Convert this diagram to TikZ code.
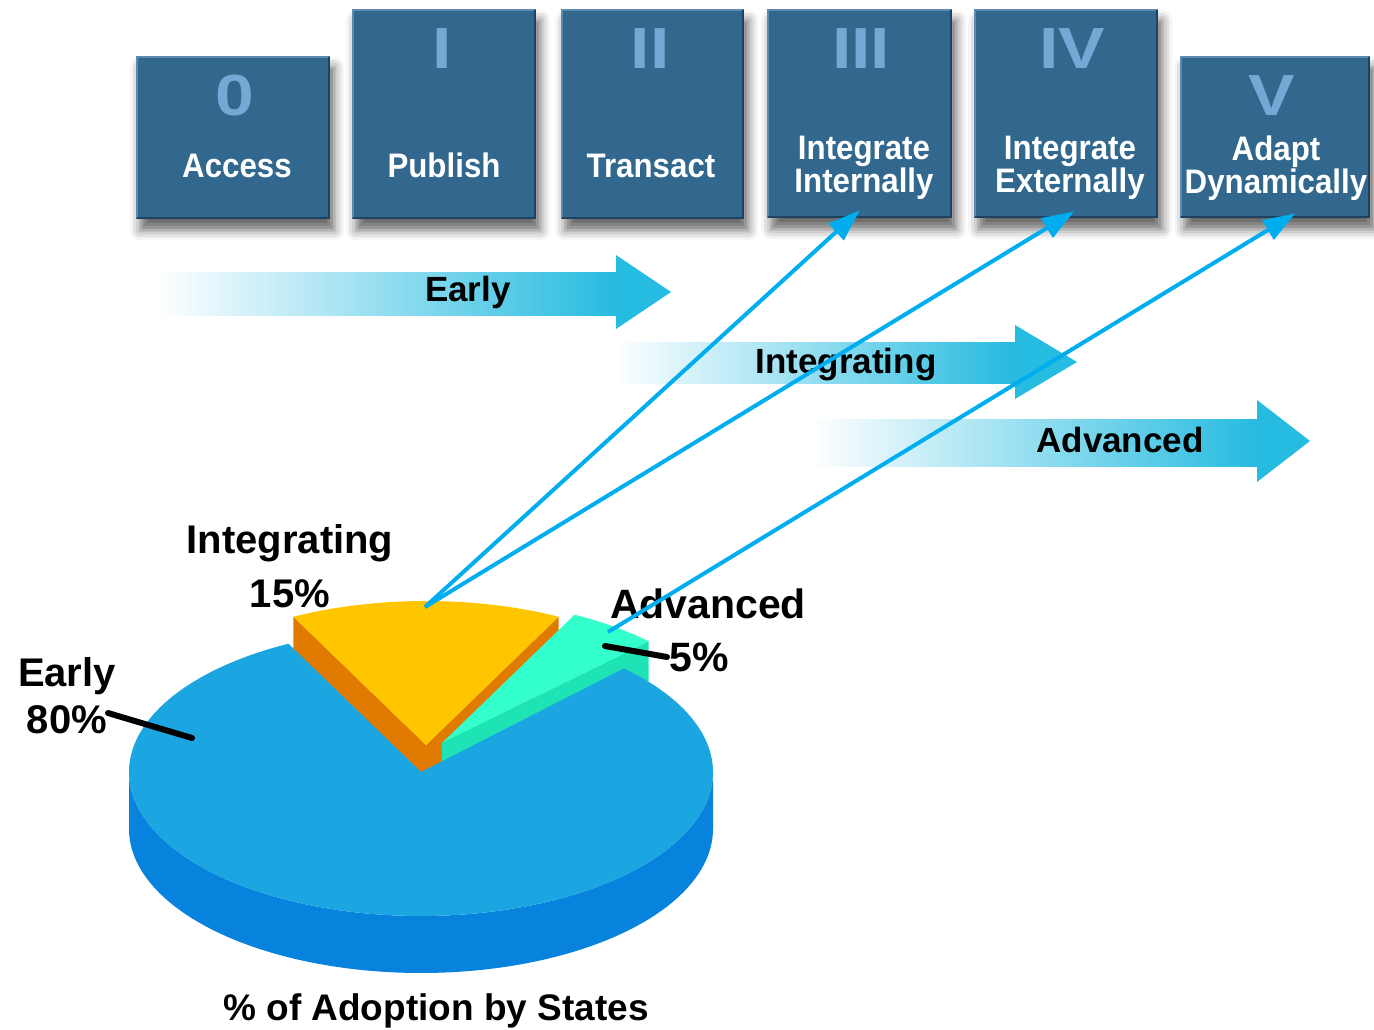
\documentclass[tikz,border=0pt]{standalone}
\usepackage{fontspec}
\setmainfont{Liberation Sans}
\newfontfamily\boxfont{Liberation Sans}[FakeStretch=0.92]
\newfontfamily\numfont{Liberation Sans}[FakeStretch=1.2]
\usetikzlibrary{arrows.meta,shadows.blur}
\definecolor{boxblue}{RGB}{50,104,142}
\definecolor{boxlight}{RGB}{92,138,176}
\definecolor{boxdark}{RGB}{30,66,96}
\definecolor{numblue}{RGB}{118,168,214}
\definecolor{arrowcyan}{RGB}{38,187,224}
\definecolor{linkblue}{RGB}{0,174,240}
\definecolor{pietop}{RGB}{28,166,225}
\definecolor{pieside}{RGB}{7,131,222}
\definecolor{pieyellow}{RGB}{255,198,0}
\definecolor{pieorange}{RGB}{224,122,0}
\definecolor{tealtop}{RGB}{51,255,204}
\definecolor{tealside}{RGB}{29,227,181}
\begin{document}
\begin{tikzpicture}[x=1pt,y=-1pt,
  stagebox/.style={fill=boxblue, inner sep=0pt, anchor=north west,
    blur shadow={shadow xshift=4pt, shadow yshift=-11pt, shadow blur radius=10pt, shadow opacity=60}},
  stagelabel/.style={text=white, font=\boxfont\bfseries\fontsize{34}{33}\selectfont, align=center, inner sep=0pt},
  numeral/.style={text=numblue, font=\numfont\bfseries\fontsize{58}{58}\selectfont, inner sep=0pt, anchor=base},
  pielabel/.style={font=\bfseries, align=center, inner sep=0pt, anchor=north},
  arrowlabel/.style={font=\bfseries\fontsize{35}{35}\selectfont, inner sep=0pt, anchor=base},
  connector/.style={draw=linkblue, line width=4pt, -{Triangle[length=32pt,width=22pt]}},
  leader/.style={line width=6pt, line cap=round},
]
\useasboundingbox (0,0) rectangle (1374,1029);

% ---- stage boxes
\node[stagebox, minimum width=194pt, minimum height=163pt] (b0) at (136,56) {};
\node[stagebox, minimum width=184pt, minimum height=210pt] (b1) at (352,9) {};
\node[stagebox, minimum width=183pt, minimum height=210pt] (b2) at (561,9) {};
\node[stagebox, minimum width=185pt, minimum height=209pt] (b3) at (767,9) {};
\node[stagebox, minimum width=184pt, minimum height=209pt] (b4) at (974,9) {};
\node[stagebox, minimum width=190pt, minimum height=162pt] (b5) at (1180,56) {};
\foreach \b in {b0,b1,b2,b3,b4,b5}{
  \draw[boxlight, line width=2pt] ([shift={(1pt,1pt)}]\b.south west) -- ([shift={(1pt,-1pt)}]\b.north west) -- ([shift={(-1pt,-1pt)}]\b.north east);
  \draw[boxdark, line width=2pt] ([shift={(-1pt,-1pt)}]\b.north east) -- ([shift={(-1pt,1pt)}]\b.south east) -- ([shift={(1pt,1pt)}]\b.south west);
}

% ---- numerals
\node[numeral] (n0) at (235,115) {0};
\node[numeral] (n1) at (442,68) {I};
\node[numeral] (n2) at (650,68) {II};
\node[numeral] (n3) at (861,68) {III};
\node[numeral] (n4) at (1072,68) {IV};
\node[numeral] (n5) at (1272,115) {V};

% ---- stage labels
\node[stagelabel, anchor=base] (l0) at (237,177) {Access};
\node[stagelabel, anchor=base] (l1) at (444,177) {Publish};
\node[stagelabel, anchor=base] (l2) at (651,177) {Transact};
\node[stagelabel, anchor=north] (l3) at (864,136) {Integrate\\Internally};
\node[stagelabel, anchor=north] (l4) at (1070,136) {Integrate\\Externally};
\node[stagelabel, anchor=north] (l5) at (1276,136) {Adapt\\Dynamically};

% ---- phase arrows
\shade[left color=white, right color=arrowcyan] (157,272) rectangle (617,315);
\fill[arrowcyan] (616,255) -- (671,292) -- (616,329) -- cycle;
\node[arrowlabel] (aearly) at (468,301) {Early};

\shade[left color=white, right color=arrowcyan] (614,342) rectangle (1016,383);
\fill[arrowcyan] (1015,325) -- (1077,362) -- (1015,399) -- cycle;
\node[arrowlabel] (aint) at (846,373) {Integrating};

\shade[left color=white, right color=arrowcyan] (811,419) rectangle (1258,466);
\fill[arrowcyan] (1257,400) -- (1310,441) -- (1257,482) -- cycle;
\node[arrowlabel] (aadv) at (1120,452) {Advanced};

% ---- 3D pie
% integrating slice (exploded)
\fill[pieorange] (426,745) -- (293.4,616.7) -- (293.4,673.7) -- (426,802) -- cycle;
\fill[pieorange] (426,745) -- (558.6,616.7) -- (558.6,673.7) -- (426,802) -- cycle;
\fill[pieyellow] (426,745) -- plot[domain=117:63, samples=50] ({426+292*cos(\x)},{745-144*sin(\x)}) -- cycle;
% advanced slice (exploded)
\fill[tealside] (442,743) -- (648.5,641.2) -- (648.5,698.2) -- (442,800) -- cycle;
\fill[tealtop] (442,743) -- plot[domain=63:45, samples=20] ({442+292*cos(\x)},{743-144*sin(\x)}) -- cycle;
% early slice
\fill[pieside] plot[domain=180:360, samples=90] ({421+292*cos(\x)},{772-144*sin(\x)})
   -- plot[domain=360:180, samples=90] ({421+292*cos(\x)},{829-144*sin(\x)}) -- cycle;
\fill[pietop] (421,772) -- plot[domain=117:406, samples=160] ({421+292*cos(\x)},{772-144*sin(\x)}) -- cycle;

% ---- pie labels and leaders
\node[pielabel, font=\bfseries\fontsize{40}{54}\selectfont] (lint) at (290,524) {Integrating\\15\%};
\node[pielabel, font=\bfseries\fontsize{40}{47}\selectfont] (learly) at (67,657) {Early\\80\%};
\node[pielabel, font=\bfseries\fontsize{41}{53}\selectfont] (ladv) at (708,589) {Advanced\\5\%\kern18pt};
\coordinate (e1) at (108,713);
\coordinate (e2) at (192,738);
\draw[leader] (e1) -- (e2);
\coordinate (d1) at (605,646);
\coordinate (d2) at (667,657);
\draw[leader] (d1) -- (d2);

\node[font=\bfseries\fontsize{37}{37}\selectfont, inner sep=0pt, anchor=base] (cap) at (436,1020) {\% of Adoption by States};

% ---- connectors
\coordinate (intpt) at (425,607);
\coordinate (advpt) at (608,632);
\draw[connector] (intpt) -- ([yshift=8pt]b3.south);
\draw[connector] (intpt) -- ([xshift=8pt,yshift=7pt]b4.south);
\draw[connector] (advpt) -- ([xshift=20pt,yshift=5pt]b5.south);
\end{tikzpicture}
\end{document}
